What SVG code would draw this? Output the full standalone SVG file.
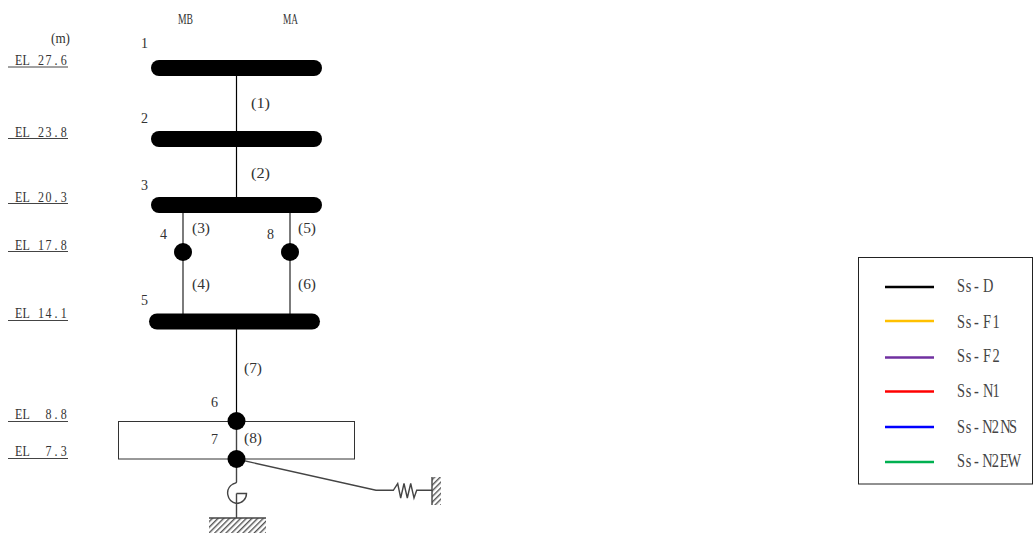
<svg xmlns="http://www.w3.org/2000/svg" width="1033" height="539" viewBox="0 0 1033 539">
<style>
text{font-family:"Liberation Serif","DejaVu Serif",serif;font-size:15px;fill:#333}
.lg{font-size:18px;fill:#444}
.ln{stroke:#000;stroke-width:1.2;fill:none}
.g{stroke:#444;stroke-width:1.4;fill:none}
.bar{fill:#000}
.u{stroke:#444;stroke-width:1}
.key{stroke-width:2.6}
</style>
<defs>
<pattern id="h" width="4" height="4" patternUnits="userSpaceOnUse" patternTransform="rotate(45)"><rect width="4" height="4" fill="#fff"/><rect width="1.4" height="4" fill="#555"/></pattern>
</defs>
<rect width="1033" height="539" fill="#fff"/>
<g id="labels">
<text x="178" y="24" textLength="15" lengthAdjust="spacingAndGlyphs">MB</text>
<text x="283" y="24" textLength="15" lengthAdjust="spacingAndGlyphs">MA</text>
<text x="51" y="43" textLength="19" lengthAdjust="spacingAndGlyphs">(m)</text>
<g class="elv">
<text transform="translate(15 65) scale(.8 1)" x="0 9.400 18.800 28.800 38.200 49.500 57.200">EL 27.6</text><line class="u" x1="8" x2="68" y1="67" y2="67"/>
<text transform="translate(15 137) scale(.8 1)" x="0 9.400 18.800 28.800 38.200 49.500 57.200">EL 23.8</text><line class="u" x1="8" x2="68" y1="138.500" y2="138.500"/>
<text transform="translate(15 202) scale(.8 1)" x="0 9.400 18.800 28.800 38.200 49.500 57.200">EL 20.3</text><line class="u" x1="8" x2="68" y1="203.500" y2="203.500"/>
<text transform="translate(15 250) scale(.8 1)" x="0 9.400 18.800 28.800 38.200 49.500 57.200">EL 17.8</text><line class="u" x1="8" x2="68" y1="251.500" y2="251.500"/>
<text transform="translate(15 318) scale(.8 1)" x="0 9.400 18.800 28.800 38.200 49.500 57.200">EL 14.1</text><line class="u" x1="8" x2="68" y1="320.500" y2="320.500"/>
<text transform="translate(15 419) scale(.8 1)" xml:space="preserve" x="0 9.400 18.800 28.200 38.200 49.500 57.200">EL  8.8</text><line class="u" x1="8" x2="68" y1="421.500" y2="421.500"/>
<text transform="translate(15 456) scale(.8 1)" xml:space="preserve" x="0 9.400 18.800 28.200 38.200 49.500 57.200">EL  7.3</text><line class="u" x1="8" x2="68" y1="458.500" y2="458.500"/>
</g>
</g>
<g id="connectors">
<line class="ln" x1="236.500" x2="236.500" y1="67" y2="205"/>
<line class="g" x1="183" x2="183" y1="205" y2="321"/>
<line class="g" x1="290" x2="290" y1="205" y2="321"/>
<line class="ln" x1="236.500" x2="236.500" y1="321" y2="421"/>
<line class="g" x1="236.500" x2="236.500" y1="421" y2="482"/>
<path class="g" d="M236.500 482Q236.500 483 233 484A10.500 10.500 0 0 0 236.500 503.500M236.500 493.500V518M236.500 493.500H246.500C246.500 499 242 503.500 236.500 503.500"/>
<path class="g" d="M236.500 459L376 490.300H393.300L397.700 483.500L400.700 498L404 483.500L407.300 498L410.700 483.500L414 498L416.700 490.300H432"/>
</g>
<g id="grounds">
<rect x="432" y="477" width="9" height="28" fill="url(#h)"/><line class="g" x1="432" x2="432" y1="477" y2="505"/>
<rect x="209" y="518" width="57" height="15" fill="url(#h)"/><line class="g" x1="209" x2="266" y1="518" y2="518"/>
</g>
<g id="floor"><rect x="118.500" y="421.500" width="236" height="37.500" fill="none" stroke="#333" stroke-width="1"/></g>
<g id="n1"><rect class="bar" x="151" y="60" width="171" height="16" rx="8"/><text x="141" y="48" textLength="7" lengthAdjust="spacingAndGlyphs">1</text></g>
<g id="n2"><rect class="bar" x="151" y="131" width="171" height="16" rx="8"/><text x="141" y="123" textLength="7" lengthAdjust="spacingAndGlyphs">2</text></g>
<g id="n3"><rect class="bar" x="151" y="197" width="171" height="16" rx="8"/><text x="141" y="190" textLength="7" lengthAdjust="spacingAndGlyphs">3</text></g>
<g id="n4"><circle cx="183" cy="252" r="9"/><text x="160" y="239" textLength="7" lengthAdjust="spacingAndGlyphs">4</text></g>
<g id="n8"><circle cx="290" cy="252" r="9"/><text x="267" y="239" textLength="7" lengthAdjust="spacingAndGlyphs">8</text></g>
<g id="n5"><rect class="bar" x="149" y="313.500" width="171" height="16" rx="8"/><text x="141" y="305" textLength="7" lengthAdjust="spacingAndGlyphs">5</text></g>
<g id="n6"><circle cx="236.500" cy="421" r="9"/><text x="211" y="407" textLength="7" lengthAdjust="spacingAndGlyphs">6</text></g>
<g id="n7"><circle cx="236.500" cy="459" r="9"/><text x="211" y="444" textLength="7" lengthAdjust="spacingAndGlyphs">7</text></g>
<g id="members">
<text x="251" y="108" textLength="19" lengthAdjust="spacingAndGlyphs">(1)</text>
<text x="251" y="178" textLength="19" lengthAdjust="spacingAndGlyphs">(2)</text>
<text x="192" y="233" textLength="18" lengthAdjust="spacingAndGlyphs">(3)</text>
<text x="192" y="289" textLength="18" lengthAdjust="spacingAndGlyphs">(4)</text>
<text x="298" y="233" textLength="18" lengthAdjust="spacingAndGlyphs">(5)</text>
<text x="298" y="289" textLength="18" lengthAdjust="spacingAndGlyphs">(6)</text>
<text x="244" y="373" textLength="18" lengthAdjust="spacingAndGlyphs">(7)</text>
<text x="244" y="443" textLength="18" lengthAdjust="spacingAndGlyphs">(8)</text>
</g>
<g id="legend">
<rect x="858.500" y="257.500" width="174" height="226.500" fill="#fff" stroke="#222" stroke-width="1"/>
<line class="key" x1="885" x2="934" y1="287" y2="287" stroke="#000"/><text class="lg" transform="translate(957 292) scale(.8 1)" x="0 11 21.200 32.500">Ss-D</text>
<line class="key" x1="885" x2="934" y1="321" y2="321" stroke="#ffc000"/><text class="lg" transform="translate(957 328) scale(.8 1)" x="0 11 21.200 32.500 44.500">Ss-F1</text>
<line class="key" x1="885" x2="934" y1="357.500" y2="357.500" stroke="#7030a0"/><text class="lg" transform="translate(957 362) scale(.8 1)" x="0 11 21.200 32.500 44.500">Ss-F2</text>
<line class="key" x1="885" x2="934" y1="391.500" y2="391.500" stroke="#f00"/><text class="lg" transform="translate(957 397) scale(.8 1)" x="0 11 21.200 32.500 44.500">Ss-N1</text>
<line class="key" x1="885" x2="934" y1="427" y2="427" stroke="#00f"/><text class="lg" transform="translate(957 433) scale(.8 1)" x="0 11 21.200 31.500 43.500 54 65">Ss-N2NS</text>
<line class="key" x1="885" x2="934" y1="462" y2="462" stroke="#00b050"/><text class="lg" transform="translate(957 467) scale(.8 1)" x="0 11 21.200 31.500 43.500 53.500 63">Ss-N2EW</text>
</g>
</svg>
